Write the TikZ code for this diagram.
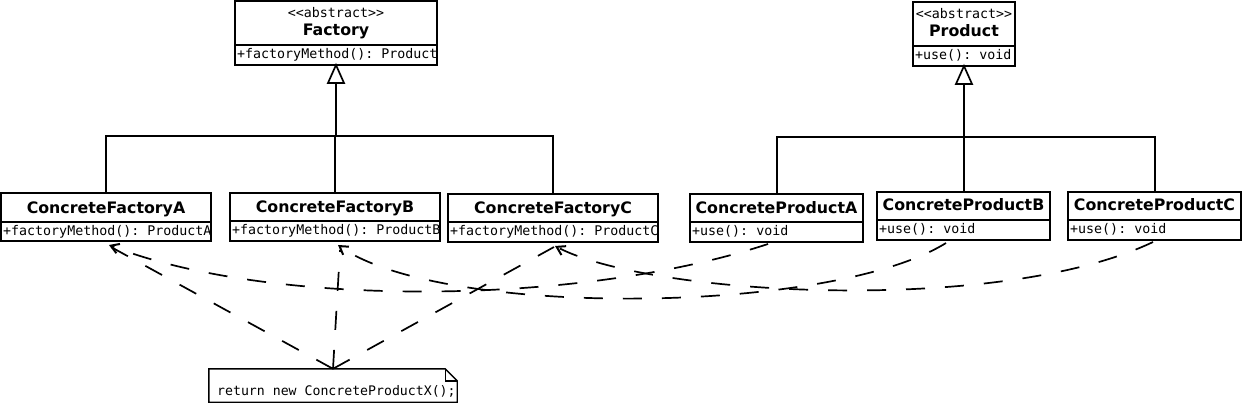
\documentclass[tikz,border=0pt]{standalone}
\usepackage{fontspec}
\setmainfont{DejaVu Sans}
\setmonofont{DejaVu Sans Mono}
\usetikzlibrary{arrows.meta,calc}
\begin{document}
\begin{tikzpicture}[x=1pt,y=-1pt,
  box/.style={draw, line width=1.7pt, inner sep=0pt, outer sep=0pt},
  nm/.style={font=\bfseries\fontsize{15.8}{18}\selectfont, inner sep=0pt, anchor=base},
  mono/.style={font=\ttfamily\fontsize{13.3}{16}\selectfont, inner sep=0pt},
  memb/.style={mono, anchor=base west},
  gen/.style={line width=1.7pt},
  dep/.style={line width=1.7pt, dash pattern=on 19pt off 20pt},
  arr/.style={dep, -{Straight Barb[length=8pt,width=10pt,line width=2pt]}}]
\useasboundingbox (0,0) rectangle (1242,403);

% abstract Factory
\node[box, minimum width=202pt, minimum height=44pt] (fac) at (336,23) {};
\node[box, minimum width=202pt, minimum height=20pt] (facm) at (336,55) {};
\node[mono, anchor=base] (facst) at (336,18) {<\kern0pt<abstract>\kern0pt>};
\node[nm] (facn) at (336,36) {Factory};
\node[memb] (facmt) at (237,59) {+factoryMethod(): Product};

% abstract Product
\node[box, minimum width=102pt, minimum height=44pt] (pro) at (964,24) {};
\node[box, minimum width=102pt, minimum height=20pt] (prom) at (964,56) {};
\node[mono, anchor=base] (prost) at (964,19) {<\kern0pt<abstract>\kern0pt>};
\node[nm] (pron) at (964,37) {Product};
\node[memb] (promt) at (915,60) {+use(): void};

% concrete factories
\node[box, minimum width=210pt, minimum height=29pt] (fa) at (106,207.5) {};
\node[box, minimum width=210pt, minimum height=19pt] (fam) at (106,231.5) {};
\node[nm] (fan) at (106,214) {ConcreteFactoryA};
\node[memb] (famt) at (3,236) {+factoryMethod(): ProductA};

\node[box, minimum width=210pt, minimum height=28pt] (fb) at (335,207) {};
\node[box, minimum width=210pt, minimum height=20pt] (fbm) at (335,231) {};
\node[nm] (fbn) at (335,213) {ConcreteFactoryB};
\node[memb] (fbmt) at (232,235) {+factoryMethod(): ProductB};

\node[box, minimum width=210pt, minimum height=28pt] (fc) at (553,208) {};
\node[box, minimum width=210pt, minimum height=20pt] (fcm) at (553,232) {};
\node[nm] (fcn) at (553,214) {ConcreteFactoryC};
\node[memb] (fcmt) at (450,236) {+factoryMethod(): ProductC};

% concrete products
\node[box, minimum width=173pt, minimum height=28pt] (pa) at (776.5,208) {};
\node[box, minimum width=173pt, minimum height=20pt] (pam) at (776.5,232) {};
\node[nm] (pan) at (776.5,214) {ConcreteProductA};
\node[memb] (pamt) at (692,236) {+use(): void};

\node[box, minimum width=173pt, minimum height=28pt] (pb) at (963.5,206) {};
\node[box, minimum width=173pt, minimum height=20pt] (pbm) at (963.5,230) {};
\node[nm] (pbn) at (963.5,211) {ConcreteProductB};
\node[memb] (pbmt) at (879,234) {+use(): void};

\node[box, minimum width=173pt, minimum height=28pt] (pc) at (1154.5,206) {};
\node[box, minimum width=173pt, minimum height=20pt] (pcm) at (1154.5,230) {};
\node[nm] (pcn) at (1154.5,211) {ConcreteProductC};
\node[memb] (pcmt) at (1070,234) {+use(): void};

% generalisation: factories
\coordinate (fj) at (336,136);
\draw[gen] (fa.north) |- (fj) -| (fc.north);
\draw[gen] (fb.north) -- (fb.north |- fj);
\draw[gen] (fj) -- ([yshift=-18pt]facm.south);
\draw[gen, fill=white] (facm.south) -- ++(-8,18) -- ++(16,0) -- cycle;

% generalisation: products
\coordinate (pj) at (964,137);
\draw[gen] ([xshift=0.5pt]pa.north) |- (pj) -| ([xshift=0.5pt]pc.north);
\draw[gen] ([xshift=0.5pt]pb.north) -- ([xshift=0.5pt]pb.north |- pj);
\draw[gen] (pj) -- ([yshift=-18pt]prom.south);
\draw[gen, fill=white] (prom.south) -- ++(-8,18) -- ++(16,0) -- cycle;

% note
\node[minimum width=248pt, minimum height=33pt, inner sep=0pt] (note) at (333,385.5) {};
\draw[line width=1.4pt] (note.north west) -- ([xshift=-12pt]note.north east)
  -- ([yshift=-12pt]note.north east) -- (note.south east) -- (note.south west) -- cycle;
\draw[line width=1.4pt] ([xshift=-12pt]note.north east) |- ([yshift=-12pt]note.north east);
\node[mono, font=\ttfamily\fontsize{13.2}{16}\selectfont, anchor=base west] (notet) at (217,395) {return new ConcreteProductX();};

% dependencies
\draw[arr] ([xshift=-8.5pt,yshift=-2pt]pam.south) .. controls (580,306) and (270,308) .. ([xshift=3pt,yshift=-4pt]fam.south);
\draw[arr] ([xshift=-17.5pt,yshift=-3pt]pbm.south) .. controls (830,315) and (440,318) .. ([xshift=3pt,yshift=-4pt]fbm.south);
\draw[arr] ([xshift=-1.5pt,yshift=-2pt]pcm.south) .. controls (1000,315) and (650,296) .. ([xshift=2pt,yshift=-4pt]fcm.south);

% note links
\draw[dep] (note.north) -- ([xshift=5pt,yshift=-6pt]fam.south);
\draw[dep] (note.north) -- ([xshift=5pt,yshift=-9pt]fbm.south);
\draw[dep] (note.north) -- ([xshift=1pt,yshift=-5pt]fcm.south);
\end{tikzpicture}
\end{document}
